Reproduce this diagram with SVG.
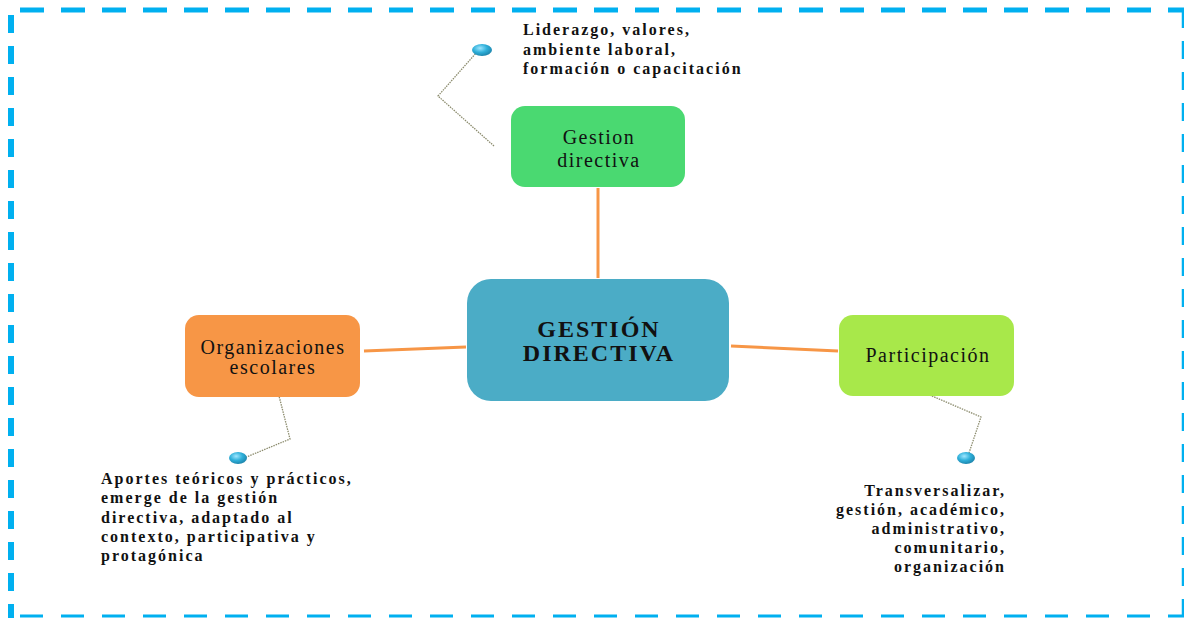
<svg xmlns="http://www.w3.org/2000/svg" width="1184" height="618" viewBox="0 0 1184 618">
<defs>
<radialGradient id="bub" cx="40%" cy="35%" r="70%">
<stop offset="0" stop-color="#9fe6ff"/>
<stop offset="0.5" stop-color="#2fb0da"/>
<stop offset="1" stop-color="#1a7fa6"/>
</radialGradient>
</defs>
<style>
.border{fill:none;stroke:#00B0F0}
.conn{stroke:#F79646;stroke-width:3;fill:none}
.dot{stroke:#8c8c6e;stroke-width:1.3;stroke-dasharray:1.5 1;fill:none}
.node{font-family:"Liberation Serif","Times New Roman",serif;font-size:20px;fill:#111;text-anchor:middle;letter-spacing:1.5px}
.main{font-family:"Liberation Serif","Times New Roman",serif;font-size:24px;font-weight:bold;fill:#111;text-anchor:middle;letter-spacing:2px}
.note{font-family:"Liberation Serif","Times New Roman",serif;font-size:16px;font-weight:bold;fill:#111;letter-spacing:2px}
</style>
<rect width="1184" height="618" fill="#fff"/>
<g id="frame">
<line class="border" x1="20" y1="10" x2="1184" y2="10" stroke-width="5" stroke-dasharray="24 17"/>
<line class="border" x1="11" y1="15" x2="11" y2="618" stroke-width="6" stroke-dasharray="18 13"/>
<line class="border" x1="1183" y1="10" x2="1183" y2="618" stroke-width="2.5" stroke-dasharray="18 13"/>
<line class="border" x1="20" y1="616" x2="1184" y2="616" stroke-width="3" stroke-dasharray="23 18"/>
</g>
<g id="connectors">
<line class="conn" x1="598" y1="188" x2="598" y2="278"/>
<line class="conn" x1="364" y1="351" x2="466" y2="347"/>
<line class="conn" x1="731" y1="346" x2="838" y2="351"/>
<polyline class="dot" points="494,146 438,96 477,52"/>
<polyline class="dot" points="278,392 290,439 244,458"/>
<polyline class="dot" points="925,393 981,417 968,456"/>
</g>
<g id="center">
<rect x="467" y="279" width="262" height="122" rx="24" fill="#4BACC6"/>
<text class="main" x="599" y="337">GESTIÓN</text>
<text class="main" x="599" y="361">DIRECTIVA</text>
</g>
<g id="gestion">
<rect x="511" y="106" width="174" height="81" rx="14" fill="#4AD971"/>
<text class="node" x="599" y="144">Gestion</text>
<text class="node" x="599" y="167">directiva</text>
</g>
<g id="organizaciones">
<rect x="185" y="315" width="175" height="82" rx="14" fill="#F79646"/>
<text class="node" x="273" y="354">Organizaciones</text>
<text class="node" x="273" y="374">escolares</text>
</g>
<g id="participacion">
<rect x="839" y="315" width="175" height="81" rx="14" fill="#A8E84A"/>
<text class="node" x="928" y="362">Participación</text>
</g>
<g id="note-top">
<ellipse cx="482" cy="50" rx="10" ry="6" fill="url(#bub)"/>
<text class="note" x="523" y="35">Liderazgo, valores,</text>
<text class="note" x="523" y="55">ambiente laboral,</text>
<text class="note" x="523" y="74">formación o capacitación</text>
</g>
<g id="note-left">
<ellipse cx="238" cy="458" rx="9" ry="6" fill="url(#bub)"/>
<text class="note" x="101" y="484">Aportes teóricos y prácticos,</text>
<text class="note" x="101" y="503">emerge de la gestión</text>
<text class="note" x="101" y="523">directiva, adaptado al</text>
<text class="note" x="101" y="542">contexto, participativa y</text>
<text class="note" x="101" y="561">protagónica</text>
</g>
<g id="note-right">
<ellipse cx="966" cy="458" rx="9" ry="6" fill="url(#bub)"/>
<text class="note" x="1006" y="496" text-anchor="end">Transversalizar,</text>
<text class="note" x="1006" y="515" text-anchor="end">gestión, académico,</text>
<text class="note" x="1006" y="534" text-anchor="end">administrativo,</text>
<text class="note" x="1006" y="553" text-anchor="end">comunitario,</text>
<text class="note" x="1006" y="572" text-anchor="end">organización</text>
</g>
</svg>
